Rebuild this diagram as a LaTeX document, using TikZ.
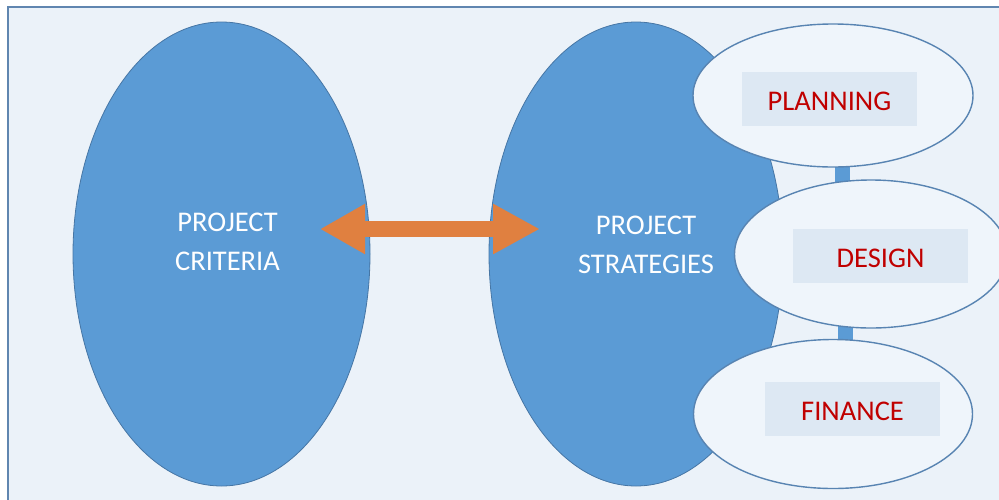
\documentclass[tikz,border=0pt]{standalone}
\usepackage{fontspec}
\setmainfont{Carlito}
\usetikzlibrary{shapes.geometric,arrows.meta}

\definecolor{pagebg}{RGB}{235,242,249}
\definecolor{framecol}{RGB}{96,134,176}
\definecolor{bigfill}{RGB}{91,155,213}
\definecolor{bigedge}{RGB}{70,118,165}
\definecolor{smallfill}{RGB}{239,245,251}
\definecolor{smalledge}{RGB}{88,132,178}
\definecolor{tagfill}{RGB}{221,232,243}
\definecolor{tagred}{RGB}{192,0,0}
\definecolor{arroworange}{RGB}{224,128,64}

\begin{document}
\begin{tikzpicture}[x=1pt,y=-1pt,
  bigoval/.style={ellipse, inner sep=0pt, fill=bigfill, draw=bigedge, line width=0.8pt},
  smalloval/.style={ellipse, inner sep=0pt, fill=smallfill, draw=smalledge, line width=1.4pt},
  whitetext/.style={text=white, align=center, inner sep=0pt, font=\fontsize{28.5}{39}\selectfont},
  tag/.style={fill=tagfill, text=tagred, inner sep=0pt, minimum width=175pt, minimum height=54pt,
    text height=23.4pt, text depth=0pt, font=\fontsize{28.5}{34}\selectfont},
  linkbar/.style={draw=bigfill, line width=15pt},
  bigarrow/.style={draw=arroworange, line width=16pt,
    {Triangle[length=45pt,width=47pt]}-{Triangle[length=47pt,width=47pt]}}
]
\useasboundingbox (0,0) rectangle (999,499);

% page panel with its frame on the left and top edges
\fill[pagebg] (8,7) rectangle (1012,512);
\draw[framecol, line width=2pt] (8,512) -- (8,7) -- (1012,7);

% the two large ovals
\node[bigoval, minimum width=297pt, minimum height=464pt] (criteria) at (221.5,254) {};
\node[bigoval, minimum width=294pt, minimum height=464pt] (strategies) at (636,254) {};

\node[whitetext] (crittext) at (227.5,242) {PROJECT\\CRITERIA};
\node[whitetext] (strattext) at (646,245) {PROJECT\\STRATEGIES};

% positions of the three stage ovals
\coordinate (pc) at (833,95.5);
\coordinate (dc) at (871,254);
\coordinate (fc) at (833,414);

% links between the stage ovals, drawn underneath them
\coordinate (l1a) at (842,95.5);
\coordinate (l1b) at (842,254);
\coordinate (l2a) at (845,254);
\coordinate (l2b) at (845,414);
\draw[linkbar] (l1a) -- (l1b);
\draw[linkbar] (l2a) -- (l2b);

\node[smalloval, minimum width=280pt, minimum height=143pt] (planning) at (pc) {};
\node[smalloval, minimum width=273pt, minimum height=148pt] (design) at (dc) {};
\node[smalloval, minimum width=279pt, minimum height=149pt] (finance) at (fc) {};

\node[tag] (planlabel) at (829.5,99) {PLANNING};
\node[tag] (designlabel) at (880.5,256) {DESIGN};
\node[tag] (finlabel) at (852.5,409) {FINANCE};

% double-headed arrow between criteria and strategies
\coordinate (arrowL) at (320,229);
\coordinate (arrowR) at (540,229);
\draw[bigarrow] (arrowL) -- (arrowR);
\end{tikzpicture}
\end{document}
